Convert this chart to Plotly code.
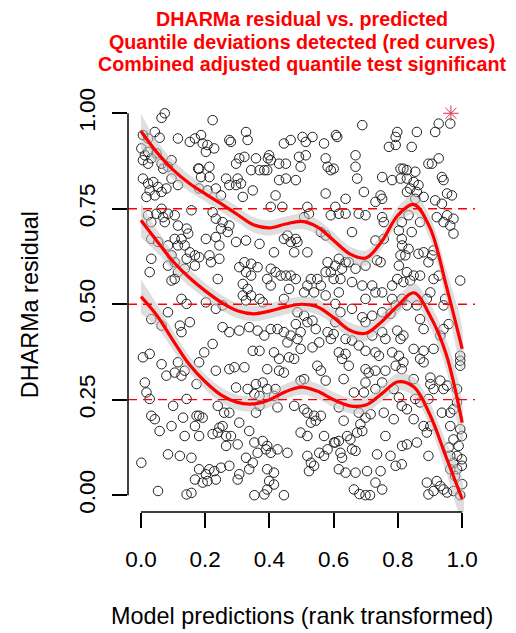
import plotly.graph_objects as go

# ---- residual points (rank-transformed prediction, DHARMa residual) ----
pts_a = [(0.074,1.0),(0.064,0.988),(0.006,0.943),(0.022,0.934),(0.043,0.951),(0.058,0.936),(0.115,0.934),(0.152,0.925),(0.168,0.934),(0.001,0.908),(0.012,0.890),(0.022,0.899),(0.032,0.882),(0.048,0.895),(0.006,0.877),(0.022,0.868),(0.095,0.877),(0.084,0.86),(0.069,0.855),(0.064,0.868),(0.178,0.855),(0.006,0.829),(0.022,0.816),(0.038,0.82),(0.053,0.807),(0.027,0.798),(0.043,0.785),(0.064,0.794),(0.079,0.803),(0.017,0.781),(0.095,0.829),(0.115,0.812),(0.064,0.75),(0.084,0.737),(0.069,0.728),(0.105,0.733),(0.048,0.737),(0.074,0.715),(0.022,0.733),(0.032,0.715),(0.157,0.746),(0.115,0.706),(0.142,0.698),(0.147,0.685),(0.126,0.671),(0.105,0.671),(0.115,0.654),(0.136,0.654),(0.152,0.636),(0.168,0.628),(0.032,0.671),(0.053,0.663),(0.084,0.654),(0.095,0.628),(0.105,0.61),(0.115,0.584),(0.105,0.566),(0.032,0.619),(0.027,0.584),(0.084,0.601),(0.095,0.562),(0.142,0.619),(0.168,0.601),(0.136,0.593),(0.126,0.514)]
pts_b = [(0.223,0.982),(0.187,0.943),(0.192,0.921),(0.207,0.917),(0.202,0.899),(0.228,0.908),(0.275,0.93),(0.28,0.925),(0.327,0.951),(0.332,0.93),(0.306,0.882),(0.322,0.886),(0.358,0.882),(0.296,0.868),(0.395,0.882),(0.181,0.855),(0.213,0.86),(0.187,0.833),(0.213,0.833),(0.343,0.851),(0.369,0.851),(0.384,0.851),(0.265,0.829),(0.275,0.812),(0.296,0.812),(0.311,0.816),(0.301,0.829),(0.348,0.798),(0.317,0.781),(0.181,0.803),(0.233,0.803),(0.207,0.798),(0.249,0.785),(0.223,0.741),(0.233,0.724),(0.254,0.715),(0.275,0.706),(0.249,0.698),(0.27,0.689),(0.202,0.671),(0.233,0.676),(0.244,0.654),(0.296,0.663),(0.327,0.667),(0.369,0.658),(0.181,0.623),(0.213,0.628),(0.218,0.61),(0.244,0.619),(0.306,0.597),(0.322,0.61),(0.343,0.606),(0.363,0.597),(0.327,0.584),(0.343,0.575),(0.239,0.566),(0.317,0.553),(0.332,0.54),(0.343,0.523),(0.317,0.523),(0.369,0.514)]
pts_c = [(0.445,0.921),(0.466,0.93),(0.503,0.938),(0.534,0.938),(0.513,0.925),(0.57,0.921),(0.607,0.943),(0.399,0.89),(0.404,0.877),(0.393,0.851),(0.43,0.868),(0.451,0.868),(0.492,0.886),(0.513,0.89),(0.497,0.86),(0.575,0.882),(0.581,0.86),(0.591,0.851),(0.43,0.825),(0.451,0.829),(0.482,0.825),(0.419,0.785),(0.575,0.79),(0.404,0.755),(0.44,0.755),(0.518,0.755),(0.523,0.737),(0.508,0.728),(0.591,0.733),(0.456,0.68),(0.482,0.671),(0.445,0.671),(0.466,0.663),(0.487,0.663),(0.56,0.689),(0.575,0.68),(0.414,0.636),(0.477,0.636),(0.518,0.636),(0.581,0.61),(0.591,0.584),(0.404,0.593),(0.419,0.584),(0.435,0.575),(0.451,0.575),(0.466,0.575),(0.482,0.566),(0.393,0.566),(0.404,0.549),(0.529,0.566),(0.549,0.566),(0.518,0.549),(0.56,0.549),(0.575,0.584),(0.461,0.54),(0.508,0.531),(0.539,0.531),(0.575,0.523),(0.445,0.514)]
pts_d = [(0.689,0.969),(0.611,0.938),(0.798,0.951),(0.793,0.938),(0.772,0.912),(0.793,0.917),(0.668,0.89),(0.6,0.855),(0.668,0.86),(0.673,0.829),(0.751,0.833),(0.782,0.825),(0.808,0.829),(0.808,0.855),(0.694,0.794),(0.746,0.785),(0.751,0.776),(0.73,0.768),(0.637,0.776),(0.678,0.737),(0.699,0.733),(0.605,0.755),(0.616,0.737),(0.637,0.737),(0.657,0.689),(0.73,0.667),(0.756,0.671),(0.751,0.728),(0.756,0.715),(0.803,0.693),(0.813,0.654),(0.605,0.601),(0.616,0.619),(0.637,0.61),(0.626,0.593),(0.647,0.61),(0.668,0.593),(0.699,0.601),(0.735,0.615),(0.746,0.61),(0.6,0.566),(0.621,0.566),(0.657,0.558),(0.689,0.549),(0.72,0.549),(0.699,0.514),(0.73,0.531),(0.751,0.531),(0.782,0.549),(0.798,0.566),(0.803,0.601),(0.808,0.628),(0.813,0.514),(0.782,0.514),(0.616,0.531)]
pts_e = [(0.927,0.973),(0.916,0.951),(0.963,0.973),(0.859,0.951),(0.843,0.912),(0.927,0.882),(0.895,0.868),(0.906,0.868),(0.817,0.855),(0.828,0.851),(0.854,0.847),(0.828,0.829),(0.849,0.82),(0.864,0.812),(0.838,0.803),(0.828,0.794),(0.859,0.794),(0.854,0.776),(0.88,0.781),(0.937,0.833),(0.942,0.825),(0.953,0.79),(0.968,0.785),(0.916,0.772),(0.937,0.763),(0.833,0.733),(0.812,0.715),(0.843,0.689),(0.869,0.715),(0.921,0.728),(0.942,0.715),(0.953,0.733),(0.973,0.724),(0.963,0.706),(0.973,0.685),(0.812,0.671),(0.833,0.645),(0.823,0.628),(0.864,0.632),(0.88,0.636),(0.911,0.641),(0.906,0.628),(0.895,0.61),(0.828,0.584),(0.849,0.575),(0.869,0.575),(0.817,0.558),(0.838,0.562),(0.911,0.566),(0.927,0.575),(0.901,0.531),(0.89,0.514),(0.994,0.562),(0.947,0.514)]
pts_f = [(0.142,0.501),(0.084,0.479),(0.032,0.461),(0.064,0.444),(0.121,0.444),(0.152,0.453),(0.126,0.427),(0.006,0.361),(0.027,0.37),(0.064,0.343),(0.079,0.313),(0.105,0.321),(0.126,0.313),(0.115,0.348),(0.136,0.326),(0.173,0.291),(0.012,0.295),(0.017,0.269),(0.027,0.252),(0.1,0.234),(0.142,0.252),(0.032,0.208),(0.043,0.199),(0.058,0.168),(0.095,0.181),(0.131,0.203),(0.173,0.208),(0.168,0.181),(0.136,0.155),(0.084,0.107),(0.121,0.103),(0.157,0.098),(0.001,0.085),(0.168,0.041),(0.053,0.011),(0.142,0.002),(0.157,0.006)]
pts_g = [(0.202,0.505),(0.233,0.488),(0.254,0.497),(0.327,0.51),(0.379,0.505),(0.254,0.44),(0.275,0.427),(0.306,0.431),(0.337,0.44),(0.363,0.431),(0.384,0.418),(0.223,0.396),(0.197,0.374),(0.181,0.348),(0.348,0.378),(0.369,0.378),(0.291,0.335),(0.275,0.33),(0.322,0.335),(0.233,0.326),(0.296,0.282),(0.332,0.278),(0.353,0.265),(0.369,0.26),(0.379,0.295),(0.358,0.291),(0.239,0.234),(0.259,0.216),(0.275,0.216),(0.369,0.234),(0.358,0.216),(0.181,0.208),(0.192,0.203),(0.181,0.155),(0.244,0.177),(0.223,0.16),(0.239,0.164),(0.265,0.155),(0.254,0.181),(0.28,0.155),(0.306,0.19),(0.337,0.168),(0.353,0.138),(0.379,0.142),(0.265,0.129),(0.301,0.133),(0.363,0.111),(0.389,0.12),(0.327,0.098),(0.348,0.085),(0.181,0.068),(0.213,0.068),(0.202,0.055),(0.228,0.063),(0.233,0.041),(0.249,0.072),(0.275,0.077),(0.306,0.055),(0.301,0.041),(0.337,0.068),(0.192,0.033),(0.207,0.037),(0.353,0.0),(0.384,0.002)]
pts_h = [(0.487,0.479),(0.508,0.47),(0.518,0.453),(0.544,0.435),(0.534,0.457),(0.482,0.448),(0.404,0.435),(0.425,0.435),(0.445,0.427),(0.466,0.418),(0.487,0.409),(0.497,0.427),(0.456,0.4),(0.414,0.374),(0.43,0.357),(0.461,0.361),(0.477,0.357),(0.497,0.383),(0.534,0.387),(0.555,0.4),(0.591,0.409),(0.581,0.427),(0.393,0.33),(0.43,0.326),(0.445,0.321),(0.549,0.339),(0.56,0.326),(0.575,0.3),(0.497,0.3),(0.508,0.304),(0.393,0.278),(0.419,0.278),(0.414,0.26),(0.425,0.23),(0.477,0.234),(0.508,0.225),(0.518,0.216),(0.539,0.208),(0.529,0.19),(0.544,0.195),(0.56,0.208),(0.497,0.164),(0.518,0.155),(0.57,0.155),(0.601,0.138),(0.393,0.129),(0.404,0.111),(0.425,0.12),(0.456,0.111),(0.518,0.103),(0.555,0.111),(0.581,0.12),(0.57,0.103),(0.529,0.085),(0.523,0.063),(0.539,0.077),(0.393,0.068),(0.414,0.059),(0.399,0.037),(0.414,0.028),(0.393,0.015),(0.445,0.0)]
pts_i = [(0.605,0.501),(0.621,0.479),(0.657,0.488),(0.689,0.466),(0.699,0.453),(0.72,0.47),(0.751,0.479),(0.777,0.475),(0.793,0.497),(0.605,0.453),(0.6,0.422),(0.637,0.409),(0.657,0.405),(0.678,0.392),(0.699,0.378),(0.72,0.418),(0.751,0.427),(0.761,0.409),(0.798,0.431),(0.808,0.409),(0.616,0.374),(0.637,0.37),(0.626,0.357),(0.647,0.339),(0.73,0.374),(0.741,0.365),(0.782,0.374),(0.803,0.365),(0.793,0.339),(0.699,0.33),(0.709,0.321),(0.73,0.326),(0.761,0.326),(0.631,0.304),(0.663,0.269),(0.694,0.269),(0.699,0.295),(0.73,0.278),(0.751,0.295),(0.787,0.278),(0.803,0.256),(0.616,0.23),(0.678,0.216),(0.699,0.203),(0.715,0.212),(0.756,0.216),(0.787,0.199),(0.631,0.195),(0.683,0.186),(0.689,0.168),(0.673,0.164),(0.605,0.138),(0.616,0.142),(0.642,0.155),(0.652,0.146),(0.657,0.12),(0.668,0.116),(0.621,0.111),(0.626,0.098),(0.761,0.155),(0.813,0.129),(0.616,0.068),(0.637,0.059),(0.668,0.059),(0.704,0.063),(0.746,0.063),(0.735,0.107),(0.777,0.103),(0.793,0.077),(0.663,0.015),(0.699,0.0),(0.73,0.033),(0.751,0.015),(0.68,0.003),(0.713,0.0)]
pts_j = [(0.828,0.497),(0.859,0.497),(0.942,0.497),(0.869,0.461),(0.88,0.435),(0.817,0.418),(0.942,0.435),(0.958,0.448),(0.932,0.418),(0.849,0.383),(0.88,0.378),(0.869,0.357),(0.88,0.348),(0.911,0.383),(0.994,0.365),(0.994,0.352),(0.994,0.339),(0.817,0.348),(0.812,0.33),(0.849,0.304),(0.901,0.308),(0.901,0.291),(0.911,0.278),(0.932,0.3),(0.942,0.278),(0.953,0.287),(0.984,0.278),(0.812,0.234),(0.828,0.225),(0.854,0.252),(0.869,0.243),(0.895,0.252),(0.937,0.216),(0.984,0.243),(0.973,0.225),(0.849,0.199),(0.88,0.181),(0.901,0.181),(0.89,0.164),(0.963,0.181),(0.963,0.216),(0.828,0.133),(0.859,0.138),(0.895,0.103),(0.994,0.173),(0.999,0.155),(0.973,0.146),(0.989,0.129),(0.958,0.125),(0.963,0.103),(0.984,0.103),(0.999,0.094),(0.973,0.085),(0.999,0.077),(0.984,0.068),(0.963,0.068),(0.978,0.05),(0.89,0.033),(0.921,0.037),(0.932,0.024),(0.942,0.015),(0.911,0.011),(0.895,0.002),(0.953,0.007),(0.973,0.011),(0.994,0.0),(0.812,0.081),(1.0,0.029)]

outlier_x = [0.965]
outlier_y = [1.0]

# ---- quantile regression curves ----
curve_x = [0.0,0.05,0.1,0.15,0.2,0.25,0.3,0.35,0.4,0.45,0.5,0.55,0.6,0.65,0.7,0.75,0.8,0.85,0.9,0.95,1.0]
q75 = [0.953,0.897,0.852,0.817,0.789,0.763,0.735,0.708,0.7,0.71,0.717,0.702,0.667,0.632,0.621,0.665,0.733,0.761,0.7,0.55,0.383]
q50 = [0.72,0.665,0.612,0.57,0.535,0.505,0.483,0.475,0.482,0.493,0.5,0.493,0.465,0.432,0.424,0.455,0.497,0.53,0.47,0.37,0.19]
q25 = [0.52,0.47,0.405,0.343,0.297,0.262,0.243,0.239,0.25,0.271,0.283,0.272,0.25,0.234,0.236,0.266,0.297,0.283,0.21,0.1,-0.01]
band_half = [0.045,0.03,0.025,0.022,0.02,0.02,0.02,0.02,0.02,0.02,0.02,0.02,0.02,0.02,0.02,0.02,0.022,0.025,0.03,0.04,0.055]
ref_levels = [0.25, 0.5, 0.75]

x_ticks = [0.0, 0.2, 0.4, 0.6, 0.8, 1.0]
y_ticks = [0.0, 0.25, 0.5, 0.75, 1.0]

title_lines = ["DHARMa residual vs. predicted",
               "Quantile deviations detected (red curves)",
               "Combined adjusted quantile test significant"]
x_title = "Model predictions (rank transformed)"
y_title = "DHARMa residual"

FONT = "Arial, 'Liberation Sans', sans-serif"

all_pts = pts_a + pts_b + pts_c + pts_d + pts_e + pts_f + pts_g + pts_h + pts_i + pts_j
px = [p[0] for p in all_pts]
py = [p[1] for p in all_pts]

fig = go.Figure()

# points
fig.add_trace(go.Scatter(x=px, y=py, mode="markers",
                         marker=dict(symbol="circle-open", size=9.5, color="#222222",
                                     line=dict(width=1, color="#222222")),
                         hoverinfo="skip", showlegend=False))

# bands and curves
for q in (q25, q50, q75):
    hi = [v + h for v, h in zip(q, band_half)]
    lo = [v - h for v, h in zip(q, band_half)]
    fig.add_trace(go.Scatter(x=curve_x + curve_x[::-1], y=hi + lo[::-1],
                             mode="lines", fill="toself", line=dict(width=0, shape="spline"),
                             fillcolor="rgba(195,195,195,0.55)", hoverinfo="skip", showlegend=False))
for q in (q25, q50, q75):
    fig.add_trace(go.Scatter(x=curve_x, y=q, mode="lines",
                             line=dict(color="red", width=3.2, shape="spline"),
                             hoverinfo="skip", showlegend=False))

# outlier
fig.add_trace(go.Scatter(x=outlier_x, y=outlier_y, mode="markers",
                         marker=dict(symbol="asterisk-open", size=13, color="#e0304a",
                                     line=dict(width=1, color="#e0304a")),
                         hoverinfo="skip", showlegend=False))

shapes = []
for lv in ref_levels:
    shapes.append(dict(type="line", xref="paper", yref="y", x0=0, x1=1, y0=lv, y1=lv,
                       line=dict(color="red", width=1.3, dash="9px,6px"), layer="above"))
# R-style axis lines spanning only the tick range
shapes.append(dict(type="line", xref="x", yref="paper", x0=x_ticks[0], x1=x_ticks[-1], y0=0, y1=0,
                   line=dict(color="black", width=1.5)))
shapes.append(dict(type="line", xref="paper", yref="y", x0=0, x1=0, y0=y_ticks[0], y1=y_ticks[-1],
                   line=dict(color="black", width=1.5)))

annotations = []
for t, yy in zip(title_lines, [1.192, 1.136, 1.083]):
    annotations.append(dict(text="<b>%s</b>" % t, xref="paper", yref="paper", x=0.5, y=yy,
                            xanchor="center", yanchor="middle", showarrow=False,
                            font=dict(family=FONT, size=19.7, color="red")))
annotations.append(dict(text=x_title, xref="paper", yref="paper", x=0.5, y=-0.252,
                        xanchor="center", yanchor="middle", showarrow=False,
                        font=dict(family=FONT, size=23.4, color="black")))
annotations.append(dict(text=y_title, xref="paper", yref="paper", x=-0.282, y=0.5,
                        xanchor="center", yanchor="middle", showarrow=False, textangle=-90,
                        font=dict(family=FONT, size=23.4, color="black")))

fig.update_layout(
    width=516, height=633,
    margin=dict(l=128, r=41, t=98, b=121),
    paper_bgcolor="white", plot_bgcolor="white",
    shapes=shapes, annotations=annotations,
    xaxis=dict(range=[-0.0405, 1.04], tickvals=x_ticks, ticktext=["%.1f" % v for v in x_ticks],
               showgrid=False, zeroline=False, showline=False,
               ticks="outside", ticklen=15, tickwidth=1.5, tickcolor="black",
               tickfont=dict(family=FONT, size=22.5, color="black"), ticklabelstandoff=12),
    yaxis=dict(range=[-0.044, 1.04], tickvals=y_ticks, ticktext=["%.2f" % v for v in y_ticks],
               showgrid=False, zeroline=False, showline=False, tickangle=-90,
               ticks="outside", ticklen=15, tickwidth=1.5, tickcolor="black",
               tickfont=dict(family=FONT, size=22.5, color="black"), ticklabelstandoff=8),
)

fig.write_html("out.html")
